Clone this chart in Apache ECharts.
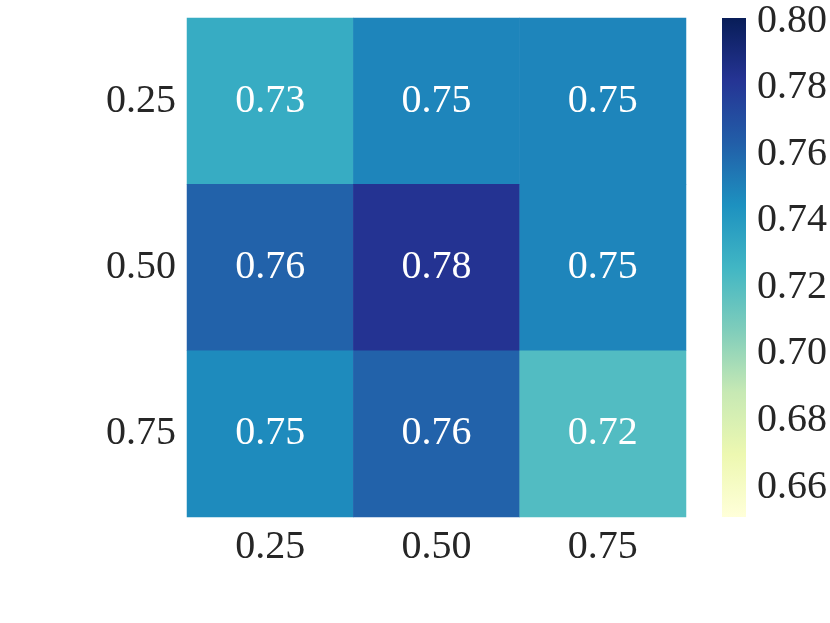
<!DOCTYPE html>
<html>
<head>
<meta charset="utf-8">
<script src="https://cdn.jsdelivr.net/npm/echarts@6/dist/echarts.min.js"></script>
<style>html,body{margin:0;padding:0;background:#fff}#c{width:830px;height:623px}</style>
</head>
<body>
<div id="c"></div>
<script>
var xCategories = ['0.25', '0.50', '0.75'];
var yCategories = ['0.25', '0.50', '0.75'];
// rows: y category index, columns: x category index
var row025 = [0.731, 0.749, 0.749];
var row050 = [0.762, 0.783, 0.749];
var row075 = [0.747, 0.762, 0.721];
var colorbarTicks = [0.66, 0.68, 0.70, 0.72, 0.74, 0.76, 0.78, 0.80];
var colorMin = 0.651, colorMax = 0.801;
var ylgnbu = ['#ffffd9', '#edf8b1', '#c7e9b4', '#7fcdbb', '#41b6c4', '#1d91c0', '#225ea8', '#253494', '#081d58'];

var rows = [row025, row050, row075];
var data = [];
rows.forEach(function (r, yi) {
  r.forEach(function (v, xi) { data.push([xi, yi, v]); });
});

var font = 'Liberation Serif';
var fs = 40;
var chart = echarts.init(document.getElementById('c'));
chart.setOption({
  animation: false,
  grid: [
    { left: 187, right: 144, top: 18, bottom: 106 },
    { left: 722, width: 24, top: 18, height: 499 }
  ],
  xAxis: [
    { type: 'category', data: xCategories, gridIndex: 0,
      axisLine: { show: false }, axisTick: { show: false }, splitLine: { show: false },
      axisLabel: { fontFamily: font, fontSize: fs, color: '#262626', margin: 10 } },
    { type: 'value', gridIndex: 1, show: false, min: 0, max: 1 }
  ],
  yAxis: [
    { type: 'category', data: yCategories, gridIndex: 0, inverse: true,
      axisLine: { show: false }, axisTick: { show: false }, splitLine: { show: false },
      axisLabel: { fontFamily: font, fontSize: fs, color: '#262626', margin: 11 } },
    { type: 'value', gridIndex: 1, position: 'right', min: colorMin, max: colorMax,
      axisLine: { show: false }, axisTick: { show: false }, splitLine: { show: false },
      axisLabel: { fontFamily: font, fontSize: fs, color: '#262626', margin: 11,
        customValues: colorbarTicks,
        formatter: function (v) { return v.toFixed(2); } } }
  ],
  visualMap: {
    type: 'continuous', min: colorMin, max: colorMax, seriesIndex: 0, show: false,
    inRange: { color: ylgnbu }
  },
  series: [{
    type: 'heatmap', xAxisIndex: 0, yAxisIndex: 0, data: data,
    label: { show: true, color: '#ffffff', fontFamily: font, fontSize: fs,
      formatter: function (p) { return p.value[2].toFixed(2); } },
    emphasis: { disabled: true }
  }, {
    type: 'custom', xAxisIndex: 1, yAxisIndex: 1, silent: true,
    data: [[0, 1, colorMin, colorMax]],
    renderItem: function (params, api) {
      var p0 = api.coord([api.value(0), api.value(2)]);
      var p1 = api.coord([api.value(1), api.value(3)]);
      var stops = ylgnbu.map(function (c, i) {
        return { offset: 1 - i / (ylgnbu.length - 1), color: c };
      }).reverse();
      return {
        type: 'rect',
        shape: { x: p0[0], y: p1[1], width: p1[0] - p0[0], height: p0[1] - p1[1] },
        style: { fill: new echarts.graphic.LinearGradient(0, 0, 0, 1, stops) }
      };
    }
  }]
});
</script>
</body>
</html>
